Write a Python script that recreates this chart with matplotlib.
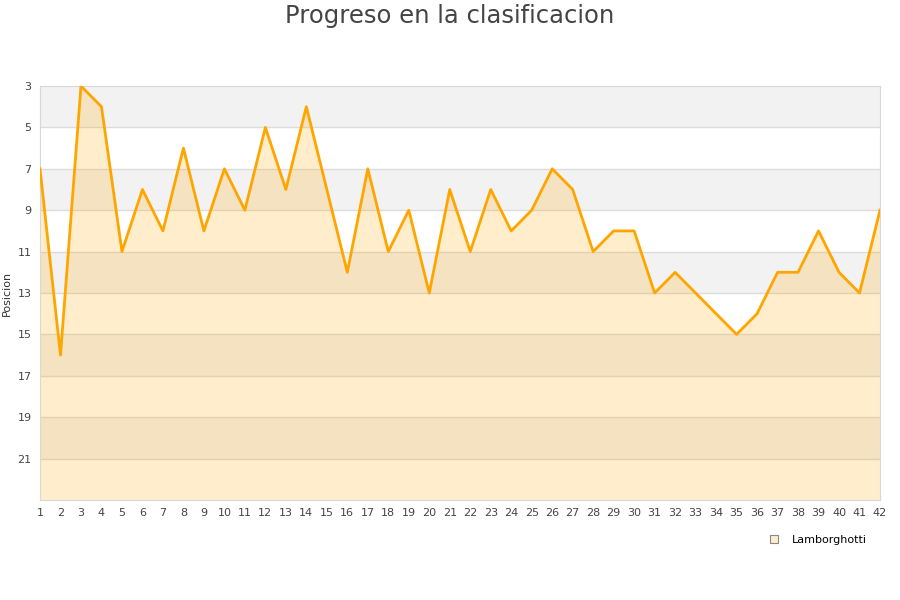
import matplotlib
matplotlib.use('Agg')
import matplotlib.pyplot as plt

jornadas = list(range(1, 43))
posiciones = [7, 16, 3, 4, 11, 8, 10, 6, 10, 7, 9, 5, 8, 4, 8, 12, 7, 11, 9, 13,
              8, 11, 8, 10, 9, 7, 8, 11, 10, 10, 13, 12, 13, 14, 15, 14, 12, 12, 10, 12,
              13, 9]
y_ticks = list(range(3, 22, 2))
equipo = 'Lamborghotti'

fig = plt.figure(figsize=(9, 6), dpi=100)
ax = fig.add_axes([40/900, 100/600, 840/900, 414/600])

# alternating bands
for i, y0 in enumerate(range(3, 23, 2)):
    if i % 2 == 0:
        ax.axhspan(y0, y0 + 2, color='#f2f2f2', lw=0, zorder=0)
for y in y_ticks[1:]:
    ax.axhline(y, color='#dcdcdc', lw=1, zorder=1)

ax.fill_between(jornadas, posiciones, 23, color='#ffa500', alpha=0.2, lw=0, zorder=2)
ax.plot(jornadas, posiciones, color='#ffa500', lw=2.0, zorder=3)

ax.set_xlim(1, 42)
ax.set_ylim(23, 3)
ax.set_xticks(jornadas)
ax.set_yticks(y_ticks)
ax.tick_params(length=0, labelsize=8, colors='#444444', pad=6)
for s in ax.spines.values():
    s.set_color('#d8d8d8')
ax.set_ylabel('Posicion', fontsize=8, color='#333333', labelpad=4)

fig.suptitle('Progreso en la clasificacion', fontsize=17.5, color='#444444', y=0.993)

h = plt.Line2D([], [], marker='s', ls='none', markersize=6, markerfacecolor='#ffedcc',
               markeredgecolor='#888888', markeredgewidth=0.8)
fig.legend([h], [equipo], loc='center', bbox_to_anchor=(815/900, 1 - 540/600),
           frameon=False, fontsize=8, handletextpad=0.6)

fig.savefig('out.png', dpi=100)
